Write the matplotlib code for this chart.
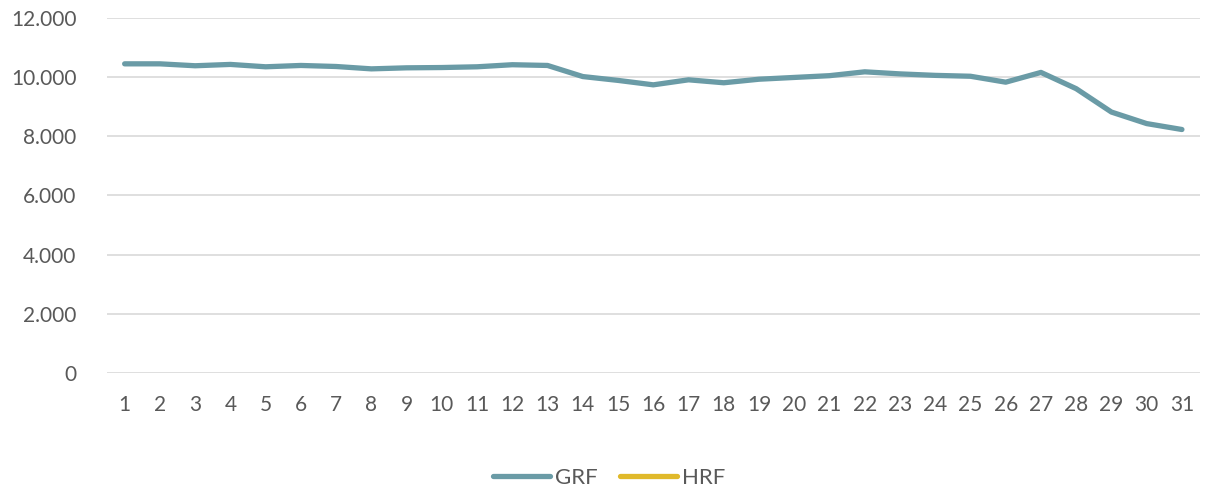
import matplotlib.pyplot as plt
import numpy as np

# === DATA ===
days = list(range(1, 32))
grf = [10450, 10450, 10385, 10430, 10350, 10395, 10360, 10280, 10315, 10325,
       10350, 10420, 10395, 10020, 9890, 9740, 9910, 9810, 9930, 9990,
       10050, 10180, 10110, 10060, 10030, 9830, 10160, 9610, 8820, 8430, 8230]
hrf = []  # no visible values, legend only

y_ticks = [0, 2000, 4000, 6000, 8000, 10000, 12000]
y_tick_labels = ["0", "2.000", "4.000", "6.000", "8.000", "10.000", "12.000"]

# === STYLE ===
text_color = "#595959"
grid_color = "#d9d9d9"
grf_color = "#6a9ba6"
hrf_color = "#e0b92a"
plt.rcParams["font.family"] = ["Lato", "DejaVu Sans"]

# === FIGURE ===
fig = plt.figure(figsize=(12.08, 4.94), dpi=100)
ax = fig.add_axes([0.0886, 0.245, 0.9044, 0.7186])

ax.plot(days, grf, color=grf_color, lw=3.8, solid_capstyle="round",
        solid_joinstyle="round", label="GRF", zorder=3)
ax.plot(days[:len(hrf)], hrf, color=hrf_color, lw=3.8,
        solid_capstyle="round", label="HRF", zorder=3)

ax.set_xlim(0.5, 31.5)
ax.set_ylim(0, 12000)
ax.set_yticks(y_ticks)
ax.set_yticklabels(y_tick_labels)
ax.set_xticks(days)
ax.set_xticklabels([str(d) for d in days])

ax.grid(axis="y", color=grid_color, lw=1.2)
ax.set_axisbelow(True)
for s in ax.spines.values():
    s.set_visible(False)
ax.tick_params(length=0, labelcolor=text_color, labelsize=15)
ax.tick_params(axis="x", pad=16)
ax.tick_params(axis="y", pad=22)

leg = fig.legend(loc="center", bbox_to_anchor=(0.504, 0.032), ncol=2,
                 frameon=False, fontsize=16, handlelength=2.6,
                 handletextpad=0.2, columnspacing=1.0)
for t in leg.get_texts():
    t.set_color(text_color)

fig.savefig("out.png", dpi=100)
